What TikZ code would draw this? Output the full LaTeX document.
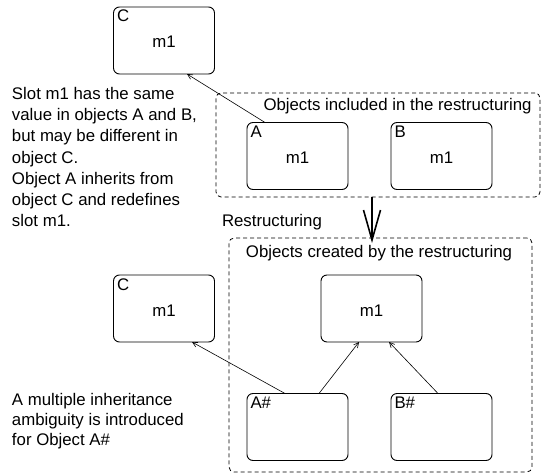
\documentclass[tikz,border=0pt]{standalone}
\usepackage{fontspec}
\setmainfont{Liberation Sans}
\usetikzlibrary{arrows.meta}
\begin{document}
\begin{tikzpicture}[x=1pt,y=-1pt,
  every node/.style={inner sep=0pt, outer sep=0pt, font=\fontsize{16.8}{21}\selectfont},
  objbox/.style={draw, line width=0.9pt, rounded corners=6pt, minimum width=101pt, minimum height=67pt},
  group/.style={draw, line width=0.8pt, dash pattern=on 4pt off 3pt, rounded corners=5pt},
  tag/.style={anchor=base west},
  slot/.style={anchor=base},
  inherit/.style={line width=0.6pt, -{Straight Barb[length=5pt,width=5pt]}},
  notes/.style={align=left, anchor=north west}]
\useasboundingbox (0,0) rectangle (543,476);

% groups of objects
\node[group, minimum width=324pt, minimum height=104pt] (included) at (378,145) {};
\node[group, minimum width=303pt, minimum height=234pt] (created) at (380.5,355) {};
\node[anchor=base] (inctitle) at (397.5,111) {Objects included in the restructuring};
\node[anchor=base] (cretitle) at (379,257) {Objects created by the restructuring};

% objects before the restructuring
\node[objbox] (Cu) at (164,40.5) {};
\node[objbox] (A) at (297.5,156) {};
\node[objbox] (B) at (441.5,156) {};
\node[tag] (Cutag) at ([xshift=3.5pt,yshift=-15pt]Cu.north west) {C};
\node[tag] (Atag) at ([xshift=3.5pt,yshift=-15pt]A.north west) {A};
\node[tag] (Btag) at ([xshift=3.5pt,yshift=-15pt]B.north west) {B};
\node[slot] (Cum) at ([yshift=-41pt]Cu.north) {m1};
\node[slot] (Am) at ([yshift=-41pt]A.north) {m1};
\node[slot] (Bm) at ([yshift=-41pt]B.north) {m1};

% objects after the restructuring
\node[objbox] (Cl) at (164,308.5) {};
\node[objbox] (M) at (371.5,308.5) {};
\node[objbox] (As) at (297.5,427) {};
\node[objbox] (Bs) at (441.5,427) {};
\node[tag] (Cltag) at ([xshift=3.5pt,yshift=-15pt]Cl.north west) {C};
\node[tag] (Astag) at ([xshift=3.5pt,yshift=-15pt]As.north west) {A\#};
\node[tag] (Bstag) at ([xshift=3.5pt,yshift=-15pt]Bs.north west) {B\#};
\node[slot] (Clm) at ([yshift=-41pt]Cl.north) {m1};
\node[slot] (Mm) at ([yshift=-41pt]M.north) {m1};

% inheritance links
\draw[inherit] ([xshift=-32.5pt]A.north) -- ([xshift=23pt]Cu.south);
\draw[inherit] ([xshift=-12.5pt]As.north) -- ([xshift=28pt]Cl.south);
\draw[inherit] ([xshift=21.5pt]As.north) -- ([xshift=-12.5pt]M.south);
\draw[inherit] ([xshift=-3.5pt]Bs.north) -- ([xshift=17.5pt]M.south);

% restructuring step
\draw[line width=1.6pt, -{Straight Barb[length=30pt,width=17pt]}]
  ([xshift=-6pt]included.south) -- ([xshift=-8.5pt,yshift=-5pt]created.north);
\node[anchor=base west] (restr) at (222,226) {Restructuring};

% explanations
\node[notes, font=\fontsize{16.8}{21.3}\selectfont] (note1) at (12,87) {Slot m1 has the same\\value in objects A and B,\\but may be different in\\object C.\\Object A inherits from\\object C and redefines\\slot m1.};
\node[notes, font=\fontsize{16.8}{20}\selectfont] (note2) at (12,393) {A multiple inheritance\\ambiguity is introduced\\for Object A\#};
\end{tikzpicture}
\end{document}
